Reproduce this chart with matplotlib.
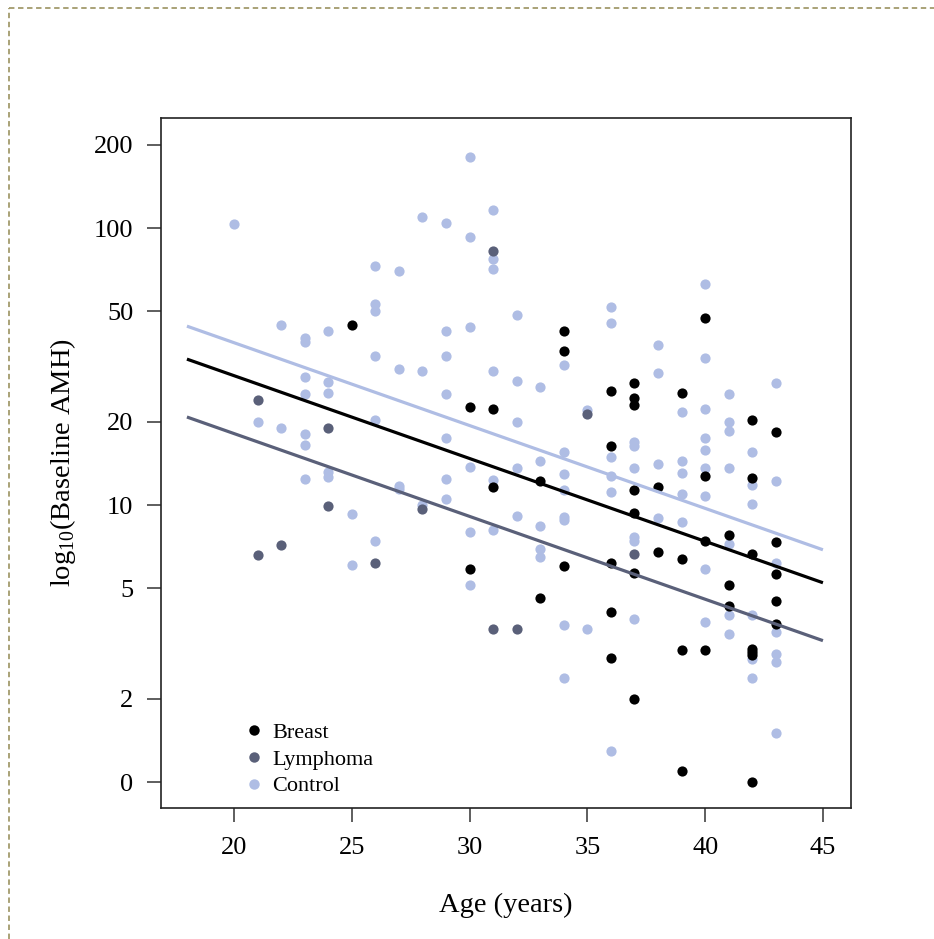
import matplotlib.pyplot as plt
from matplotlib.lines import Line2D
import numpy as np

plt.rcParams["font.family"] = ["Liberation Serif", "DejaVu Serif"]
plt.rcParams["mathtext.fontset"] = "custom"
plt.rcParams["mathtext.rm"] = "Liberation Serif"

# AMH values (original units, plotted on log axis)
control_age = ([20, 21, 22, 22] + [23] * 7 + [24] * 5 + [25] * 2 + [26] * 6 + [27] * 4
               + [28] * 3 + [29] * 7 + [30] * 6 + [31] * 6 + [32] * 5 + [33] * 5
               + [34] * 8 + [35] * 2 + [36] * 6 + [37] * 6 + [38] * 4 + [39] * 5
               + [40] * 9 + [41] * 7 + [42] * 6 + [43] * 7)
control_amh = [103, 19.9, 44.8, 19,
               40, 38.7, 28.9, 25.1, 18, 16.5, 12.4,
               42.4, 27.7, 25.3, 13.2, 12.6,
               9.26, 6.1,
               73, 53.3, 50.3, 34.4, 20.2, 7.43,
               70, 31.1, 11.7, 11.4,
               110, 30.5, 10,
               104, 42.4, 34.4, 25.1, 17.4, 12.4, 10.5,
               180, 93, 43.8, 13.7, 7.97, 5.14,
               116, 77, 71, 30.5, 12.3, 8.13,
               48.5, 28.1, 19.9, 13.6, 9.15,
               26.6, 14.4, 8.42, 6.94, 6.51,
               32, 15.6, 12.9, 11.3, 9.08, 8.83, 3.7, 2.38,
               22.0, 3.57,
               52, 45.3, 14.9, 12.7, 11.1, 1.29,
               16.9, 16.3, 13.6, 7.69, 7.43, 3.87,
               37.7, 29.9, 14.1, 8.95,
               21.6, 14.4, 13.1, 11.0, 8.71,
               62.8, 34, 22.3, 17.5, 15.8, 13.6, 10.8, 5.89, 3.79,
               25.1, 19.9, 18.5, 13.6, 7.21, 4.02, 3.42,
               15.6, 11.8, 10.1, 4.02, 2.78, 2.38,
               27.5, 12.2, 6.16, 3.49, 2.9, 2.71, 1.5]

breast_age = ([25] + [30] * 2 + [31] * 2 + [33] * 2 + [34] * 3 + [36] * 5 + [37] * 7
              + [38] * 2 + [39] * 4 + [40] * 4 + [41] * 3 + [42] * 7 + [43] * 5)
breast_amh = [44.8,
              22.5, 5.87,
              22.3, 11.6,
              12.2, 4.6,
              42.4, 35.9, 6.02,
              25.9, 16.3, 6.19, 4.1, 2.8,
              27.5, 24.3, 23, 11.3, 9.33, 5.7, 2.0,
              11.6, 6.78,
              25.4, 6.38, 3.0, 1.096,
              47.3, 12.7, 7.41, 3.0,
              7.79, 5.14, 4.32,
              20.3, 12.5, 6.64, 3.02, 2.95, 2.87, 1.0,
              18.3, 7.33, 5.63, 4.5, 3.71]

lymph_age = [21, 21, 22, 24, 24, 26, 28, 31, 31, 32, 35, 37]
lymph_amh = [23.9, 6.6, 7.17, 19, 9.95, 6.16, 9.7, 82.8, 3.57, 3.57, 21.3, 6.64]

# fitted lines: log10(AMH) = intercept + slope * age
FIT_SLOPE = -0.0299
FIT_INTERCEPT = {"Breast": 2.065, "Lymphoma": 1.856, "Control": 2.184}
FIT_AGE = [18, 45]

COLORS = {"Breast": "#000000", "Lymphoma": "#5a6079", "Control": "#afbde4"}

Y_TICKS = [1, 2, 5, 10, 20, 50, 100, 200]
Y_LABELS = ["0", "2", "5", "10", "20", "50", "100", "200"]
X_TICKS = [20, 25, 30, 35, 40, 45]

fig = plt.figure(figsize=(9.34, 9.39), dpi=100)
ax = fig.add_axes([0.1724, 0.1395, 0.7387, 0.7348])

ms = 54
ax.scatter(control_age, control_amh, s=ms, color=COLORS["Control"], lw=0, zorder=2)
ax.scatter(lymph_age, lymph_amh, s=ms, color=COLORS["Lymphoma"], lw=0, zorder=2)
ax.scatter(breast_age, breast_amh, s=ms, color=COLORS["Breast"], lw=0, zorder=2)

xs = np.array(FIT_AGE, dtype=float)
for grp in ["Control", "Breast", "Lymphoma"]:
    ax.plot(xs, 10 ** (FIT_INTERCEPT[grp] + FIT_SLOPE * xs),
            color=COLORS[grp], lw=2.3, zorder=3, solid_capstyle="butt")

ax.set_yscale("log")
ax.set_xlim(16.90, 46.19)
ax.set_ylim(0.806, 249.5)
ax.set_yticks(Y_TICKS)
ax.set_yticklabels(Y_LABELS)
ax.minorticks_off()
ax.set_xticks(X_TICKS)

ax.tick_params(axis="both", direction="out", length=10, width=1.1,
               labelsize=19, color="#333333")
ax.tick_params(axis="x", pad=11)
ax.tick_params(axis="y", pad=10)
for sp in ax.spines.values():
    sp.set_linewidth(1.2)
    sp.set_color("#222222")

ax.set_xlabel("Age (years)", fontsize=20.5, labelpad=24)
ax.set_ylabel("log$_{10}$(Baseline AMH)", fontsize=20.5, labelpad=11)

handles = [Line2D([], [], marker="o", ls="", ms=7.5, mew=0, color=COLORS[g])
           for g in ["Breast", "Lymphoma", "Control"]]
ax.legend(handles, ["Breast", "Lymphoma", "Control"], loc="lower left",
          bbox_to_anchor=(0.087, -0.012), frameon=False, fontsize=16,
          handletextpad=0.2, labelspacing=0.27, handlelength=1.2)

# dashed page border (top and left)
bc = "#a29b6c"
fig.add_artist(Line2D([9 / 934, 1], [1 - 8 / 939, 1 - 8 / 939], transform=fig.transFigure,
                      color=bc, lw=1.3, ls=(0, (3, 2))))
fig.add_artist(Line2D([9 / 934, 9 / 934], [0, 1 - 8 / 939], transform=fig.transFigure,
                      color=bc, lw=1.3, ls=(0, (3, 2))))

fig.savefig("out.png", dpi=100)
